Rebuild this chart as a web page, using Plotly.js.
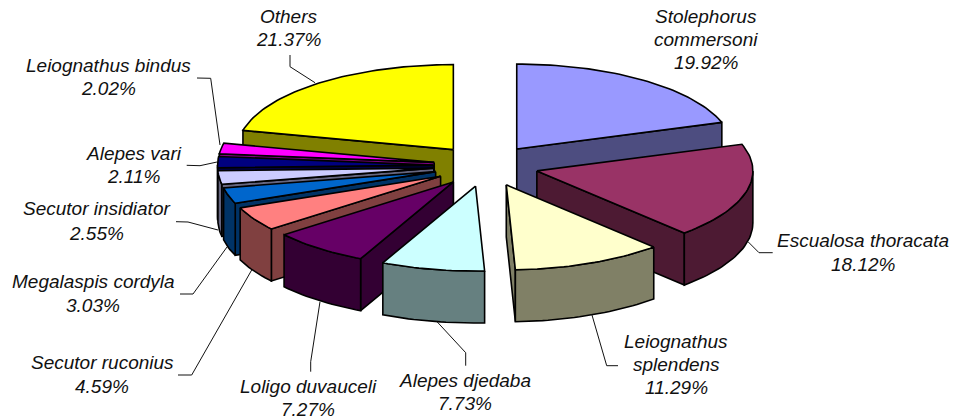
<!DOCTYPE html>
<html>
<head>
<meta charset="utf-8">
<script src="https://cdn.plot.ly/plotly-3.0.1.min.js"></script>
<style>html,body{margin:0;padding:0;background:#fff}#chart{width:956px;height:419px}</style>
</head>
<body>
<div id="chart"></div>
<script>
// Data, in slice order, clockwise from twelve o'clock
var species = ['Stolephorus commersoni','Escualosa thoracata','Leiognathus splendens','Alepes djedaba','Loligo duvauceli','Secutor ruconius','Megalaspis cordyla','Secutor insidiator','Alepes vari','Leiognathus bindus','Others'];
var shares = [19.92,18.12,11.29,7.73,7.27,4.59,3.03,2.55,2.11,2.02,21.37];
var labelLines = [['Stolephorus','commersoni','19.92%'],['Escualosa thoracata','18.12%'],['Leiognathus','splendens','11.29%'],['Alepes djedaba','7.73%'],['Loligo duvauceli','7.27%'],['Secutor ruconius','4.59%'],['Megalaspis cordyla','3.03%'],['Secutor insidiator','2.55%'],['Alepes vari','2.11%'],['Leiognathus bindus','2.02%'],['Others','21.37%']];

// Styles
var topColors = ['#9999FF','#993366','#FFFFCC','#CCFFFF','#660066','#FF8080','#0066CC','#CCCCFF','#000080','#FF00FF','#FFFF00'];
var sideColors = ['#4D4D80','#4D1A33','#808066','#668080','#330033','#804040','#003366','#666680','#000040','#800080','#808000'];

// Layout: pie projection, in page pixels
var pie = {cx:486, cy:165.8, rx:216, ry:85, depth:52, explode:0.243};
var labelCenters = [[706,[16,39,62]],[863,[240,264]],[676,[341,364,387]],[465,[380,403]],[308,[386,409]],[102,[362,386]],[93,[281,305]],[96,[208,233]],[134,[153,176]],[108,[65,88]],[289,[16,39]]];
var leaders = [
  [[772.7,252.7],[759,252.7],[748,241.7]],
  [[618,365.7],[606.7,365.7],[591.7,314]],
  [[465.7,365.7],[465.7,352.7],[437,321.7]],
  [[310.7,371.7],[310.7,361.7],[320,301.7]],
  [[178,375],[191.7,375],[251.7,270]],
  [[180,294],[193,294],[227,247]],
  [[176,221.7],[188,222],[218,230]],
  [[186.7,165.3],[200,165.7],[217,162]],
  [[197,78],[210.7,78.3],[220,145]],
  [[290,55],[290,66.7],[315,82.7]]
];

var RAD = Math.PI/180;
function px(ang){return pie.rx*Math.sin(ang*RAD);}
function py(ang){return -pie.ry*Math.cos(ang*RAD);}

var total = shares.reduce(function(a,b){return a+b;},0);
var cum = 0;
var slices = shares.map(function(v,i){
  var s = cum/total*360; cum += v; var e = cum/total*360; var m = (s+e)/2;
  return {i:i,s:s,e:e,m:m,ax:pie.cx+pie.explode*px(m),ay:pie.cy+pie.explode*py(m)};
});

function arc(sl,from,to){
  var n = Math.max(2,Math.ceil((to-from)/1.5)), xs=[], ys=[];
  for(var k=0;k<=n;k++){var a=from+(to-from)*k/n; xs.push(sl.ax+px(a)); ys.push(sl.ay+py(a));}
  return {x:xs,y:ys};
}
function poly(xs,ys,color,i){
  return {type:'scatter',mode:'lines',x:xs,y:ys,fill:'toself',fillcolor:color,
    line:{color:'#000',width:1.6,shape:'linear'},showlegend:false,
    name:species[i],text:species[i]+': '+shares[i]+'%',hoverinfo:'text',hoveron:'fills'};
}

var traces = [];
// back to front
slices.slice().sort(function(a,b){return Math.cos(b.m*RAD)-Math.cos(a.m*RAD);}).forEach(function(sl){
  var i = sl.i, c = sideColors[i], d = pie.depth;
  function radial(ang){
    var X = sl.ax+px(ang), Y = sl.ay+py(ang);
    traces.push(poly([sl.ax,X,X,sl.ax,sl.ax],[sl.ay,Y,Y+d,sl.ay+d,sl.ay],c,i));
  }
  if(Math.sin(sl.s*RAD) < -1e-6) radial(sl.s);
  if(Math.sin(sl.e*RAD) > 1e-6) radial(sl.e);
  var a0 = Math.max(sl.s,90), a1 = Math.min(sl.e,270);
  if(a1 > a0){
    var t = arc(sl,a0,a1);
    traces.push(poly(
      t.x.concat(t.x.slice().reverse(),[t.x[0]]),
      t.y.concat(t.y.slice().reverse().map(function(y){return y+d;}),[t.y[0]]),c,i));
  }
  var top = arc(sl,sl.s,sl.e);
  traces.push(poly([sl.ax].concat(top.x,[sl.ax]),[sl.ay].concat(top.y,[sl.ay]),topColors[i],i));
});

var annotations = [];
labelLines.forEach(function(lines,i){
  lines.forEach(function(t,j){
    annotations.push({xref:'x',yref:'y',x:labelCenters[i][0],y:labelCenters[i][1][j],text:t,showarrow:false,
      xanchor:'center',yanchor:'middle',
      font:{family:'"Liberation Sans", Arial, sans-serif',size:19,color:'#111',style:'italic'}});
  });
});

var shapes = leaders.map(function(p){
  return {type:'path',xref:'x',yref:'y',line:{color:'#111',width:1},
    path:'M'+p.map(function(q){return q[0]+','+q[1];}).join('L')};
});

var layout = {
  width:956,height:419,margin:{l:0,r:0,t:0,b:0},
  paper_bgcolor:'#fff',plot_bgcolor:'#fff',showlegend:false,hovermode:'closest',
  xaxis:{range:[0,956],visible:false,fixedrange:true},
  yaxis:{range:[419,0],visible:false,fixedrange:true},
  annotations:annotations,shapes:shapes
};
Plotly.newPlot('chart',traces,layout,{displayModeBar:false,responsive:false});
</script>
</body>
</html>
